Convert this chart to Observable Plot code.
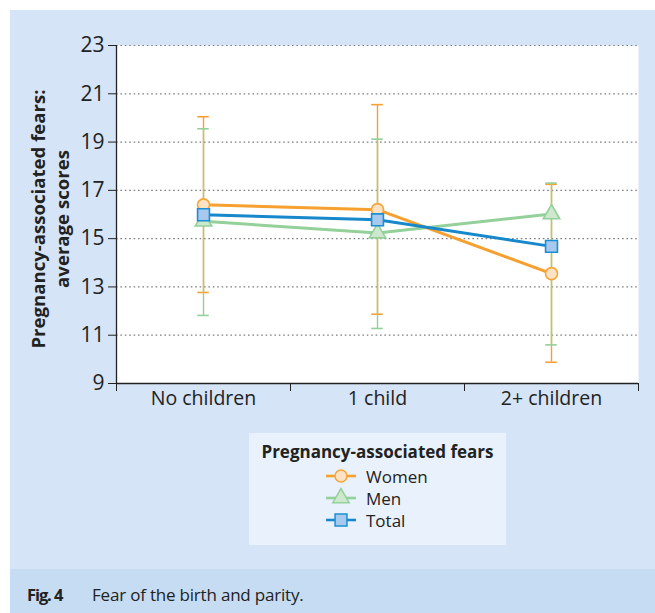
<!DOCTYPE html>
<html><head><meta charset="utf-8">
<script src="https://cdn.jsdelivr.net/npm/d3@7"></script>
<script src="https://cdn.jsdelivr.net/npm/@observablehq/plot@0.6"></script>
<style>
body{margin:0;background:#fff;font-family:"Open Sans",sans-serif;color:#222}
#fig{position:relative;width:655px;height:613px;overflow:hidden;background:#fff}
#panel{position:absolute;left:10px;top:10px;width:645px;height:559px;background:#d5e4f6}
#cap{position:absolute;left:10px;top:569px;width:645px;height:44px;background:#c6dcf3}
#chart{position:absolute;left:0;top:0}
#ylab{position:absolute;left:50px;top:219px;width:340px;transform:translate(-50%,-50%) rotate(-90deg);text-align:center;font-weight:700;font-size:18.6px;line-height:24px;color:#222}
#legend{position:absolute;left:249px;top:433px;width:257px;height:112px;background:#e9f2fc}
#legend .title{position:absolute;left:0;width:257px;top:7px;text-align:center;font-weight:700;font-size:17px;color:#222}
#legend .item{position:absolute;left:76px;height:22px;font-size:17px;display:flex;align-items:center}
#legend .item svg{margin-right:9px}
#cap .fig{position:absolute;left:17px;top:14px;font-weight:700;font-size:16.5px;letter-spacing:-1.1px}
#cap .txt{position:absolute;left:82px;top:14px;font-size:17px;letter-spacing:-0.2px}
</style></head>
<body>
<div id="fig">
  <div id="panel"></div>
  <div id="cap"><span class="fig">Fig. 4</span><span class="txt">Fear of the birth and parity.</span></div>
  <div id="chart"></div>
  <div id="ylab">Pregnancy-associated fears:<br>average scores</div>
  <div id="legend"></div>
</div>
<script>
const categories = ["No children", "1 child", "2+ children"];
const seriesNames = ["Women", "Men", "Total"];
const women = [16.4, 16.2, 13.55];
const womenLow = [12.77, 11.87, 9.88];
const womenHigh = [20.05, 20.55, 17.25];
const men = [15.72, 15.23, 16.02];
const menLow = [11.82, 11.28, 10.6];
const menHigh = [19.55, 19.12, 17.3];
const total = [15.99, 15.78, 14.68];
const yTicks = [9, 11, 13, 15, 17, 19, 21, 23];
const legendTitle = "Pregnancy-associated fears";

const styles = {
  Women: {line: "#f6a030", fill: "#fde3c6", stroke: "#f6a53a", symbol: "circle", r: 6},
  Men: {line: "#93d09a", fill: "#cde8cd", stroke: "#93d09a", symbol: "triangle", r: 6.1},
  Total: {line: "#1789cb", fill: "#a9c8ee", stroke: "#1b8fd3", symbol: "square", r: 6.7}
};

const rows = [];
categories.forEach((c, i) => {
  rows.push({x: i, cat: c, series: "Women", y: women[i], lo: womenLow[i], hi: womenHigh[i]});
  rows.push({x: i, cat: c, series: "Men", y: men[i], lo: menLow[i], hi: menHigh[i]});
  rows.push({x: i, cat: c, series: "Total", y: total[i], lo: null, hi: null});
});
const bySeries = s => rows.filter(d => d.series === s);
const capHalf = 0.033;
const bounds = categories.map((c, i) => i - 0.5).concat([categories.length - 0.5]);

function errMarks(s) {
  const data = bySeries(s);
  const col = styles[s].line;
  return [
    Plot.ruleX(data, {x: "x", y1: "lo", y2: "hi", stroke: col, strokeWidth: 1.4}),
    Plot.ruleY(data, {y: "hi", x1: d => d.x - capHalf, x2: d => d.x + capHalf, stroke: col, strokeWidth: 1.6}),
    Plot.ruleY(data, {y: "lo", x1: d => d.x - capHalf, x2: d => d.x + capHalf, stroke: col, strokeWidth: 1.6})
  ];
}
function lineMark(s) {
  return Plot.line(bySeries(s), {x: "x", y: "y", stroke: styles[s].line, strokeWidth: 3});
}
function dotMark(s) {
  const st = styles[s];
  return Plot.dot(bySeries(s), {x: "x", y: "y", symbol: st.symbol, r: st.r, fill: st.fill, stroke: st.stroke, strokeWidth: 1.6});
}

const chart = Plot.plot({
  width: 655, height: 430,
  marginLeft: 116, marginRight: 17, marginTop: 45, marginBottom: 47,
  style: {background: "transparent", fontFamily: "Open Sans", fontSize: "19.5px", color: "#222", overflow: "visible"},
  x: {domain: [-0.5, categories.length - 0.5]},
  y: {domain: [yTicks[0], yTicks[yTicks.length - 1]]},
  marks: [
    Plot.frame({fill: "white", stroke: "none"}),
    Plot.gridY(yTicks.slice(1), {stroke: "#7f7f7f", strokeOpacity: 1, strokeDasharray: "1.6,2.8", strokeWidth: 1.2}),
    Plot.axisY(yTicks, {anchor: "left", tickSize: 8, tickPadding: 4, fontSize: 21, label: null, stroke: "#222", fill: "#222"}),
    Plot.axisX(bounds, {anchor: "bottom", tickSize: 8, tickFormat: () => "", label: null, stroke: "#222"}),
    Plot.axisX(categories.map((c, i) => i), {anchor: "bottom", tickSize: 0, tickPadding: 8, fontSize: 19.5, tickFormat: i => categories[i], label: null, fill: "#222"}),
    Plot.ruleY([yTicks[0]], {stroke: "#222", strokeWidth: 1.3}),
    Plot.ruleX([bounds[0]], {stroke: "#222", strokeWidth: 1.3}),
    ...errMarks("Women"),
    ...errMarks("Men"),
    lineMark("Men"),
    lineMark("Women"),
    lineMark("Total"),
    dotMark("Women"),
    dotMark("Men"),
    dotMark("Total")
  ]
});
document.getElementById("chart").appendChild(chart);

// Legend
const leg = document.getElementById("legend");
const t = document.createElement("div");
t.className = "title"; t.textContent = legendTitle; leg.appendChild(t);
const symMap = {circle: d3.symbolCircle, triangle: d3.symbolTriangle, square: d3.symbolSquare};
seriesNames.forEach((s, i) => {
  const st = styles[s];
  const item = document.createElement("div");
  item.className = "item";
  item.style.top = (32 + i * 22) + "px";
  const path = d3.symbol(symMap[st.symbol], st.r * st.r * Math.PI)();
  item.innerHTML = `<svg width="32" height="22"><line x1="1" x2="31" y1="11" y2="11" stroke="${st.line}" stroke-width="2.6"/><path transform="translate(16,11)" d="${path}" fill="${st.fill}" stroke="${st.stroke}" stroke-width="1.5"/></svg><span>${s}</span>`;
  leg.appendChild(item);
});
</script>
</body></html>
